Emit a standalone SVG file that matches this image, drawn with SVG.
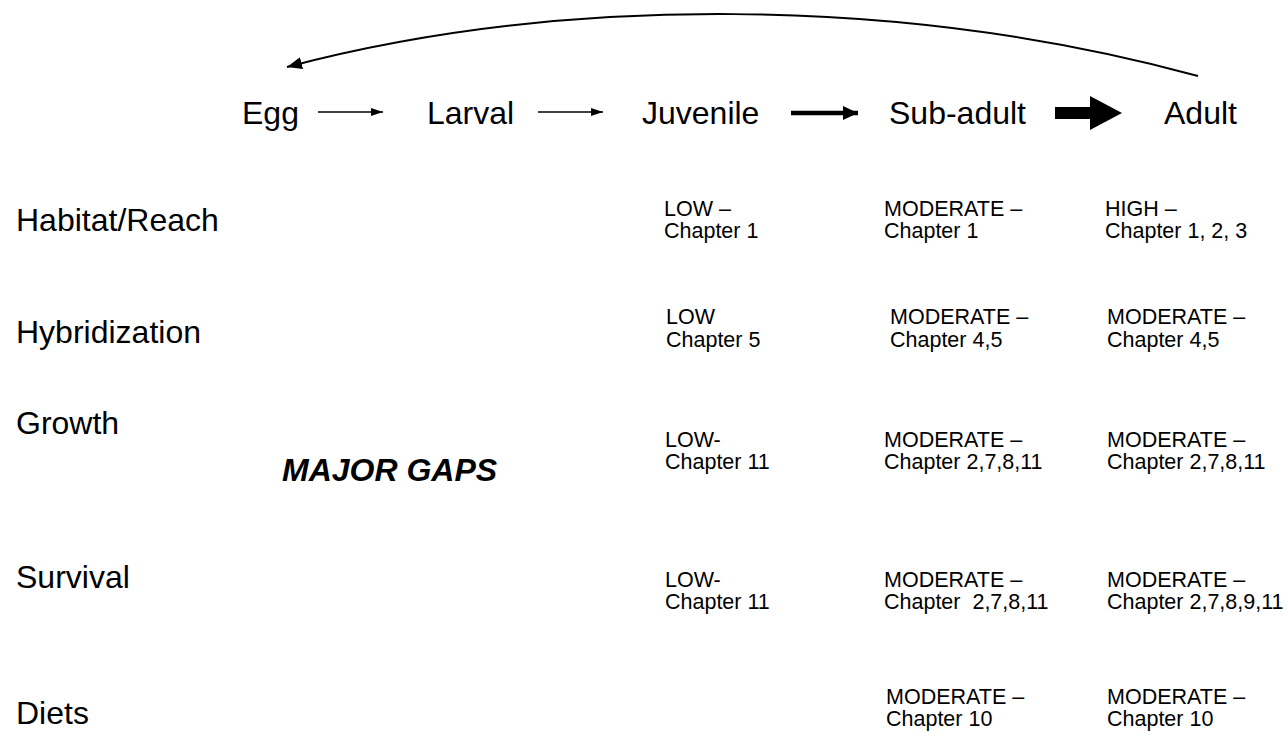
<svg xmlns="http://www.w3.org/2000/svg" width="1288" height="741" viewBox="0 0 1288 741">
<style>
text{font-family:"Liberation Sans",Arial,sans-serif;fill:#000}
.hd{font-size:32px}
.lb{font-size:32px}
.sm{font-size:21.5px}
.gap{font-size:32px;font-weight:bold;font-style:italic}
.ln{fill:none;stroke:#000}
</style>
<defs>
<marker id="ahThin" markerUnits="userSpaceOnUse" markerWidth="13" markerHeight="9" refX="12" refY="4" orient="auto"><path d="M0,0 L12,4 L0,8 z" fill="#000"/></marker>
<marker id="ahMid" markerUnits="userSpaceOnUse" markerWidth="16" markerHeight="14" refX="15" refY="7" orient="auto"><path d="M0,0 L15,7 L0,14 z" fill="#000"/></marker>
<marker id="ahCurve" markerUnits="userSpaceOnUse" markerWidth="16" markerHeight="12" refX="15" refY="6" orient="auto"><path d="M0,0 L15,6 L0,12 z" fill="#000"/></marker>
</defs>
<g id="connectors">
<path class="ln" stroke-width="2" d="M1198,76 C900,-5 560,-5 287,67" marker-end="url(#ahCurve)"/>
<line class="ln" stroke-width="1.5" x1="318" y1="112" x2="383" y2="112" marker-end="url(#ahThin)"/>
<line class="ln" stroke-width="1.5" x1="538" y1="112" x2="603" y2="112" marker-end="url(#ahThin)"/>
<line class="ln" stroke-width="4.5" x1="791" y1="113" x2="858" y2="113" marker-end="url(#ahMid)"/>
<polygon points="1055,107 1090,107 1090,96 1122,113 1090,130 1090,119 1055,119" fill="#000"/>
</g>
<g id="stage-egg"><text class="hd" x="242" y="124">Egg</text></g>
<g id="stage-larval"><text class="hd" x="427" y="124">Larval</text></g>
<g id="stage-juvenile"><text class="hd" x="642" y="124">Juvenile</text></g>
<g id="stage-subadult"><text class="hd" x="889" y="124">Sub-adult</text></g>
<g id="stage-adult"><text class="hd" x="1164" y="124">Adult</text></g>

<g id="row-habitat"><text class="lb" x="16" y="231">Habitat/Reach</text></g>
<g id="row-hybridization"><text class="lb" x="16" y="343">Hybridization</text></g>
<g id="row-growth"><text class="lb" x="16" y="434">Growth</text></g>
<g id="major-gaps"><text class="gap" x="282" y="481">MAJOR GAPS</text></g>
<g id="row-survival"><text class="lb" x="16" y="588">Survival</text></g>
<g id="row-diets"><text class="lb" x="16" y="724">Diets</text></g>

<g id="habitat-juvenile"><text class="sm" x="664" y="216">LOW –</text><text class="sm" x="664" y="238">Chapter 1</text></g>
<g id="habitat-subadult"><text class="sm" x="884" y="216">MODERATE –</text><text class="sm" x="884" y="238">Chapter 1</text></g>
<g id="habitat-adult"><text class="sm" x="1105" y="216">HIGH –</text><text class="sm" x="1105" y="238">Chapter 1, 2, 3</text></g>

<g id="hybrid-juvenile"><text class="sm" x="666" y="324">LOW</text><text class="sm" x="666" y="347">Chapter 5</text></g>
<g id="hybrid-subadult"><text class="sm" x="890" y="324">MODERATE –</text><text class="sm" x="890" y="347">Chapter 4,5</text></g>
<g id="hybrid-adult"><text class="sm" x="1107" y="324">MODERATE –</text><text class="sm" x="1107" y="347">Chapter 4,5</text></g>

<g id="growth-juvenile"><text class="sm" x="665" y="447">LOW-</text><text class="sm" x="665" y="469">Chapter 11</text></g>
<g id="growth-subadult"><text class="sm" x="884" y="447">MODERATE –</text><text class="sm" x="884" y="469">Chapter 2,7,8,11</text></g>
<g id="growth-adult"><text class="sm" x="1107" y="447">MODERATE –</text><text class="sm" x="1107" y="469">Chapter 2,7,8,11</text></g>

<g id="survival-juvenile"><text class="sm" x="665" y="587">LOW-</text><text class="sm" x="665" y="609">Chapter 11</text></g>
<g id="survival-subadult"><text class="sm" x="884" y="587">MODERATE –</text><text class="sm" x="884" y="609" xml:space="preserve">Chapter  2,7,8,11</text></g>
<g id="survival-adult"><text class="sm" x="1107" y="587">MODERATE –</text><text class="sm" x="1107" y="609">Chapter 2,7,8,9,11</text></g>

<g id="diets-subadult"><text class="sm" x="886" y="704">MODERATE –</text><text class="sm" x="886" y="726">Chapter 10</text></g>
<g id="diets-adult"><text class="sm" x="1107" y="704">MODERATE –</text><text class="sm" x="1107" y="726">Chapter 10</text></g>
</svg>
